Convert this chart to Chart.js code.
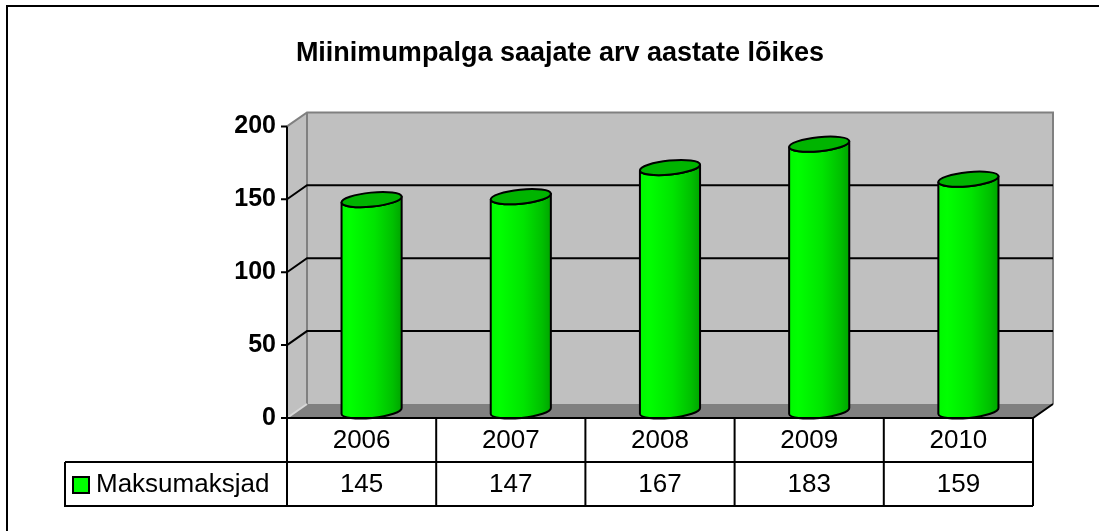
<!DOCTYPE html>
<html>
<head>
<meta charset="utf-8">
<script src="https://cdn.jsdelivr.net/npm/chart.js@4/dist/chart.umd.min.js"></script>
<style>
  html, body { margin: 0; padding: 0; background: #ffffff; }
  #wrap { width: 1099px; height: 531px; position: relative; }
</style>
</head>
<body>
<div id="wrap"><canvas id="c" width="1099" height="531"></canvas></div>
<script>
const categories = ['2006', '2007', '2008', '2009', '2010'];
const seriesName = 'Maksumaksjad';
const seriesValues = [145, 147, 167, 183, 159];
const yTickValues = [0, 50, 100, 150, 200];
const chartTitle = 'Miinimumpalga saajate arv aastate lõikes';

const FONT = "'Liberation Sans', Arial, sans-serif";
const DEPTH_X = 20, DEPTH_Y = -14;

const walls3d = {
  id: 'walls3d',
  beforeDraw(chart) {
    const ctx = chart.ctx;
    ctx.save();
    ctx.fillStyle = '#ffffff';
    ctx.fillRect(0, 0, chart.width, chart.height);
    ctx.strokeStyle = '#000000';
    ctx.lineWidth = 2;
    ctx.beginPath();
    ctx.moveTo(7, chart.height + 2);
    ctx.lineTo(7, 6);
    ctx.lineTo(chart.width + 2, 6);
    ctx.stroke();
    ctx.restore();
  },
  beforeDatasetsDraw(chart) {
    const ctx = chart.ctx;
    const a = chart.chartArea;
    const y = chart.scales.y;
    const L = a.left, R = a.right, T = a.top, B = a.bottom;
    ctx.save();
    ctx.fillStyle = '#c0c0c0';
    ctx.fillRect(L + DEPTH_X, T + DEPTH_Y, R - L, B - T);
    ctx.beginPath();
    ctx.moveTo(L, B); ctx.lineTo(L + DEPTH_X, B + DEPTH_Y);
    ctx.lineTo(L + DEPTH_X, T + DEPTH_Y); ctx.lineTo(L, T); ctx.closePath();
    ctx.fill();
    ctx.fillStyle = '#808080';
    ctx.beginPath();
    ctx.moveTo(L, B); ctx.lineTo(L + DEPTH_X, B + DEPTH_Y);
    ctx.lineTo(R + DEPTH_X, B + DEPTH_Y); ctx.lineTo(R, B); ctx.closePath();
    ctx.fill();
    ctx.strokeStyle = '#808080';
    ctx.lineWidth = 2;
    ctx.beginPath();
    ctx.moveTo(L, T); ctx.lineTo(L + DEPTH_X, T + DEPTH_Y);
    ctx.lineTo(R + DEPTH_X, T + DEPTH_Y); ctx.lineTo(R + DEPTH_X, B + DEPTH_Y);
    ctx.moveTo(L + DEPTH_X, T + DEPTH_Y); ctx.lineTo(L + DEPTH_X, B + DEPTH_Y);
    ctx.stroke();
    ctx.strokeStyle = '#d8d8d8';
    ctx.beginPath();
    ctx.moveTo(L, B); ctx.lineTo(L + DEPTH_X, B + DEPTH_Y);
    ctx.stroke();
    ctx.strokeStyle = '#000000';
    ctx.lineWidth = 2;
    y.ticks.forEach(t => {
      if (t.value <= y.min || t.value >= y.max) return;
      const py = y.getPixelForValue(t.value);
      ctx.beginPath();
      ctx.moveTo(L, py);
      ctx.lineTo(L + DEPTH_X, py + DEPTH_Y);
      ctx.lineTo(R + DEPTH_X, py + DEPTH_Y);
      ctx.stroke();
    });
    ctx.beginPath();
    y.ticks.forEach(t => {
      const py = y.getPixelForValue(t.value);
      ctx.moveTo(L - 6, py); ctx.lineTo(L, py);
    });
    ctx.moveTo(L, T); ctx.lineTo(L, B);
    ctx.stroke();
    ctx.restore();
  },
  afterDatasetsDraw(chart) {
    const ctx = chart.ctx;
    const meta = chart.getDatasetMeta(0);
    const dx = DEPTH_X / 2, dy = DEPTH_Y / 2;
    const rot = -0.1;
    meta.data.forEach(el => {
      const p = el.getProps(['x', 'y', 'base', 'width'], true);
      const cx = p.x + dx;
      const rx = p.width / 2;
      const ry = 7;
      const yTop = p.y + dy, yBot = p.base + dy;
      const cr = Math.cos(rot), sr = Math.sin(rot);
      ctx.save();
      const g = ctx.createLinearGradient(cx - rx, 0, cx + rx, 0);
      g.addColorStop(0, '#00f800');
      g.addColorStop(0.15, '#00ff00');
      g.addColorStop(0.55, '#00e400');
      g.addColorStop(0.85, '#00c000');
      g.addColorStop(1, '#00a400');
      ctx.beginPath();
      ctx.moveTo(cx - rx * cr, yTop - rx * sr);
      ctx.lineTo(cx - rx * cr, yBot - rx * sr);
      ctx.ellipse(cx, yBot, rx, ry, rot, Math.PI, 0, true);
      ctx.lineTo(cx + rx * cr, yTop + rx * sr);
      ctx.ellipse(cx, yTop, rx, ry, rot, 0, Math.PI, false);
      ctx.closePath();
      ctx.fillStyle = g;
      ctx.fill();
      ctx.strokeStyle = '#000000';
      ctx.lineWidth = 2;
      ctx.lineJoin = 'round';
      ctx.stroke();
      ctx.beginPath();
      ctx.ellipse(cx, yTop, rx, ry, rot, 0, Math.PI * 2);
      ctx.fillStyle = '#00b400';
      ctx.fill();
      ctx.stroke();
      ctx.restore();
    });
  },
  afterDraw(chart) {
    const ctx = chart.ctx;
    const a = chart.chartArea;
    const xs = chart.scales.x;
    const L = a.left, R = a.right, B = a.bottom;
    const rowH = 44;
    const r1 = B + rowH, r2 = B + 2 * rowH;
    const legendLeft = 65;
    ctx.save();
    ctx.strokeStyle = '#000000';
    ctx.lineWidth = 2;
    ctx.beginPath();
    ctx.moveTo(L, B); ctx.lineTo(R, B); ctx.lineTo(R + DEPTH_X, B + DEPTH_Y);
    ctx.moveTo(L, B); ctx.lineTo(L, r2);
    ctx.moveTo(R, B); ctx.lineTo(R, r2);
    ctx.moveTo(legendLeft, r1); ctx.lineTo(R, r1);
    ctx.moveTo(legendLeft, r1); ctx.lineTo(legendLeft, r2); ctx.lineTo(R, r2);
    for (let i = 0; i < categories.length - 1; i++) {
      const bx = (xs.getPixelForValue(i) + xs.getPixelForValue(i + 1)) / 2;
      ctx.moveTo(bx, B); ctx.lineTo(bx, r2);
    }
    ctx.stroke();
    ctx.fillStyle = '#000000';
    ctx.font = '26px ' + FONT;
    ctx.textAlign = 'center';
    ctx.textBaseline = 'middle';
    categories.forEach((c, i) => {
      const px = xs.getPixelForValue(i);
      ctx.fillText(c, px, B + rowH / 2 + 1);
      ctx.fillText(String(seriesValues[i]), px, r1 + rowH / 2 + 1);
    });
    ctx.fillStyle = '#00ff00';
    ctx.fillRect(73, r1 + 15, 16, 16);
    ctx.lineWidth = 2;
    ctx.strokeRect(73, r1 + 15, 16, 16);
    ctx.fillStyle = '#000000';
    ctx.textAlign = 'left';
    ctx.fillText(seriesName, 96, r1 + rowH / 2 + 1);
    ctx.restore();
  }
};

new Chart(document.getElementById('c'), {
  type: 'bar',
  data: {
    labels: categories,
    datasets: [{
      label: seriesName,
      data: seriesValues,
      backgroundColor: 'rgba(0,0,0,0)',
      borderWidth: 0,
      categoryPercentage: 1,
      barPercentage: 0.405
    }]
  },
  options: {
    responsive: false,
    animation: false,
    events: [],
    layout: { padding: { left: 87, right: 66, top: 0, bottom: 113 } },
    plugins: {
      legend: { display: false },
      tooltip: { enabled: false },
      title: {
        display: true,
        text: chartTitle,
        color: '#000000',
        font: { family: FONT, size: 27, weight: 'bold' },
        padding: { top: 37, bottom: 57 }
      }
    },
    scales: {
      x: { display: false },
      y: {
        min: 0,
        max: 200,
        afterFit: s => { s.width = 200; },
        afterBuildTicks: s => { s.ticks = yTickValues.map(v => ({ value: v })); },
        grid: { display: false, drawTicks: false },
        border: { display: false },
        ticks: {
          color: '#000000',
          padding: 11,
          font: { family: FONT, size: 25, weight: 'bold' }
        }
      }
    }
  },
  plugins: [walls3d]
});
</script>
</body>
</html>
